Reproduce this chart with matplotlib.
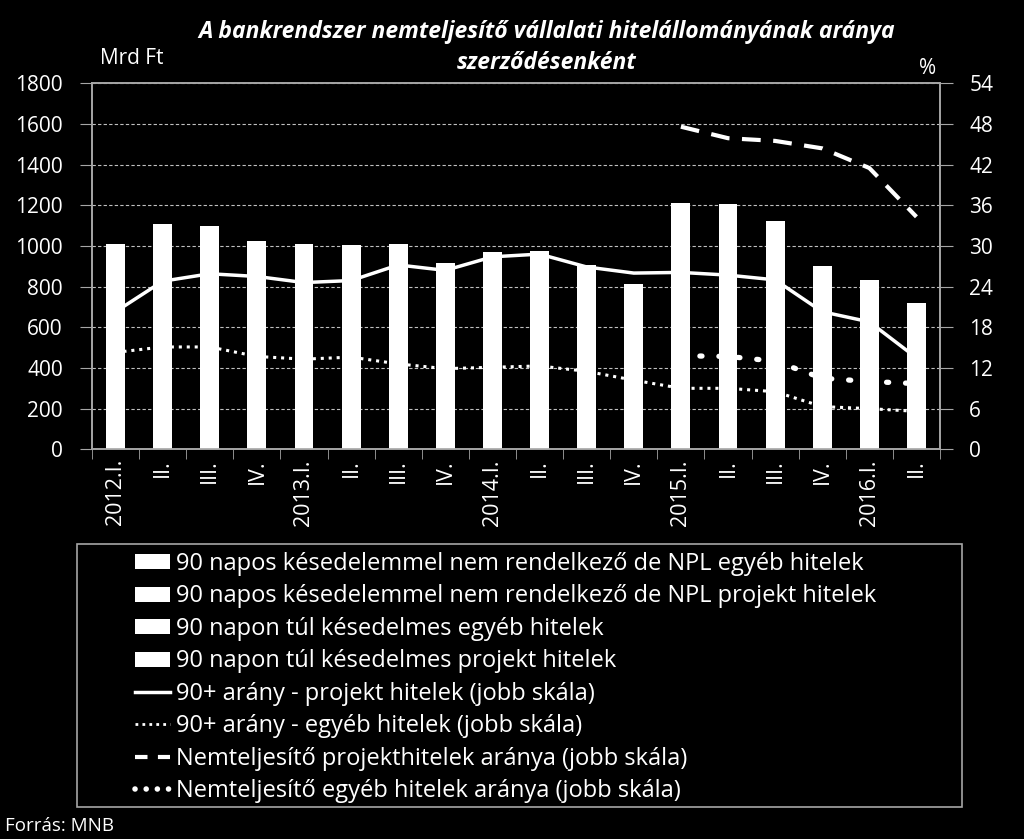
import numpy as np
import matplotlib.pyplot as plt
from matplotlib.patches import Patch, Rectangle
from matplotlib.lines import Line2D


# ============================================================
# DATA
# ============================================================

QUARTERS = [
    "2012.I.", "II.", "III.", "IV.",
    "2013.I.", "II.", "III.", "IV.",
    "2014.I.", "II.", "III.", "IV.",
    "2015.I.", "II.", "III.", "IV.",
    "2016.I.", "II.",
]

# stacked bars are all white, only the total height is readable (Mrd Ft)
NPL_TOTAL = [1008, 1107, 1100, 1023, 1008, 1003, 1011, 916, 969,
             975, 905, 813, 1210, 1205, 1123, 900, 833, 718]

# right scale, %
RATIO_90_PROJECT = [20.3, 24.8, 25.9, 25.5, 24.6, 24.9, 27.2, 26.4, 28.4,
                    28.8, 26.9, 26.0, 26.1, 25.7, 25.0, 20.3, 18.8, 13.5]
RATIO_90_OTHER = [14.3, 15.1, 15.1, 13.7, 13.3, 13.6, 12.6, 11.9, 12.1,
                  12.3, 11.5, 10.2, 9.0, 9.0, 8.5, 6.3, 6.0, 5.6]
NPL_RATIO_PROJECT = [np.nan] * 12 + [47.6, 45.9, 45.5, 44.4, 41.5, 34.3]
NPL_RATIO_OTHER = [np.nan] * 12 + [13.8, 13.7, 13.0, 10.5, 10.0, 9.7]

LEGEND_LABELS = [
    "90 napos késedelemmel nem rendelkező de NPL egyéb hitelek",
    "90 napos késedelemmel nem rendelkező de NPL projekt hitelek",
    "90 napon túl késedelmes egyéb hitelek",
    "90 napon túl késedelmes projekt hitelek",
    "90+ arány - projekt hitelek (jobb skála)",
    "90+ arány - egyéb hitelek (jobb skála)",
    "Nemteljesítő projekthitelek aránya (jobb skála)",
    "Nemteljesítő egyéb hitelek aránya (jobb skála)",
]


# ============================================================
# PLOT
# ============================================================

plt.rcParams["font.family"] = ["Open Sans", "DejaVu Sans"]

FG = "white"
SPINE = "#a6a6a6"

fig = plt.figure(figsize=(10.24, 8.39), dpi=100, facecolor="black")
ax = fig.add_axes([92 / 1024, 1 - 449.3 / 839, 848 / 1024, 366 / 839])
ax.set_facecolor("black")
ax2 = ax.twinx()

x = np.arange(len(QUARTERS))

ax.bar(x, NPL_TOTAL, width=0.4, color="white", zorder=3)

ax.set_xlim(-0.5, len(QUARTERS) - 0.5)
ax.set_ylim(0, 1800)
ax.set_yticks(np.arange(0, 1801, 200))
ax.set_axisbelow(True)
ax.yaxis.grid(True, color="#bfbfbf", linestyle=(0, (3, 2)), linewidth=0.8)

ax.set_xticks(x)
ax.set_xticklabels(QUARTERS, rotation=90, fontsize=15.5, color=FG)
ax.set_xticks(np.arange(-0.5, len(QUARTERS)), minor=True)
ax.tick_params(axis="x", which="major", length=0, pad=7)
ax.tick_params(axis="x", which="minor", length=7, color=SPINE, direction="out")
ax.tick_params(axis="y", length=9, color=SPINE, labelsize=15,
               labelcolor=FG, pad=12)

ax2.plot(x, RATIO_90_PROJECT, color=FG, linewidth=2.5, zorder=2)
ax2.plot(x, RATIO_90_OTHER, color=FG, linewidth=2.2,
         linestyle=(0, (1, 1.6)))
ax2.plot(x, NPL_RATIO_PROJECT, color=FG, linewidth=3,
         linestyle=(0, (4.5, 3)))
ax2.plot(x, NPL_RATIO_OTHER, color=FG, linewidth=3.8,
         linestyle=(0, (0.4, 3.2)), dash_capstyle="round")

ax2.set_ylim(0, 54)
ax2.set_yticks(np.arange(0, 55, 6))
ax2.tick_params(axis="y", length=9, color=SPINE, labelsize=15,
                labelcolor=FG, pad=12)

for a in (ax, ax2):
    for side in ("left", "right", "top", "bottom"):
        a.spines[side].set_color(SPINE)
        a.spines[side].set_linewidth(1.2)

fig.text(0.534, 1 - 32 / 839,
         "A bankrendszer nemteljesítő vállalati hitelállományának aránya",
         ha="center", va="center", fontsize=16.5, fontweight="bold",
         fontstyle="italic", color=FG)
fig.text(0.534, 1 - 63 / 839, "szerződésenként",
         ha="center", va="center", fontsize=16.5, fontweight="bold",
         fontstyle="italic", color=FG)
fig.text(100 / 1024, 1 - 58 / 839, "Mrd Ft", ha="left", va="center",
         fontsize=15, color=FG)
fig.text(928 / 1024, 1 - 68 / 839, "%", ha="center", va="center",
         fontsize=15, color=FG)
fig.text(5 / 1024, 1 - 826 / 839, "Forrás: MNB", ha="left", va="center",
         fontsize=13.5, color=FG)

# legend
handles = [Patch(facecolor="white", edgecolor="none") for _ in range(4)]
handles += [
    Line2D([], [], color=FG, linewidth=2.5),
    Line2D([], [], color=FG, linewidth=2, linestyle=(0, (1, 1.5))),
    Line2D([], [], color=FG, linewidth=3, linestyle=(0, (3, 2.5))),
    Line2D([], [], color=FG, linewidth=4, linestyle=(0, (0.01, 2)),
           dash_capstyle="round"),
]
leg = fig.legend(handles, LEGEND_LABELS, loc="upper left",
                 bbox_to_anchor=(116 / 1024, 1 - 533 / 839),
                 frameon=False, fontsize=17, labelcolor=FG,
                 handlelength=1.5, handleheight=0.6, handletextpad=0.25,
                 labelspacing=0.36, borderpad=0.3)

fig.patches.append(Rectangle((77 / 1024, 1 - 807 / 839), 885 / 1024,
                             263 / 839, transform=fig.transFigure,
                             fill=False, edgecolor=SPINE, linewidth=1.2))

fig.savefig("out.png", dpi=100, facecolor="black")
